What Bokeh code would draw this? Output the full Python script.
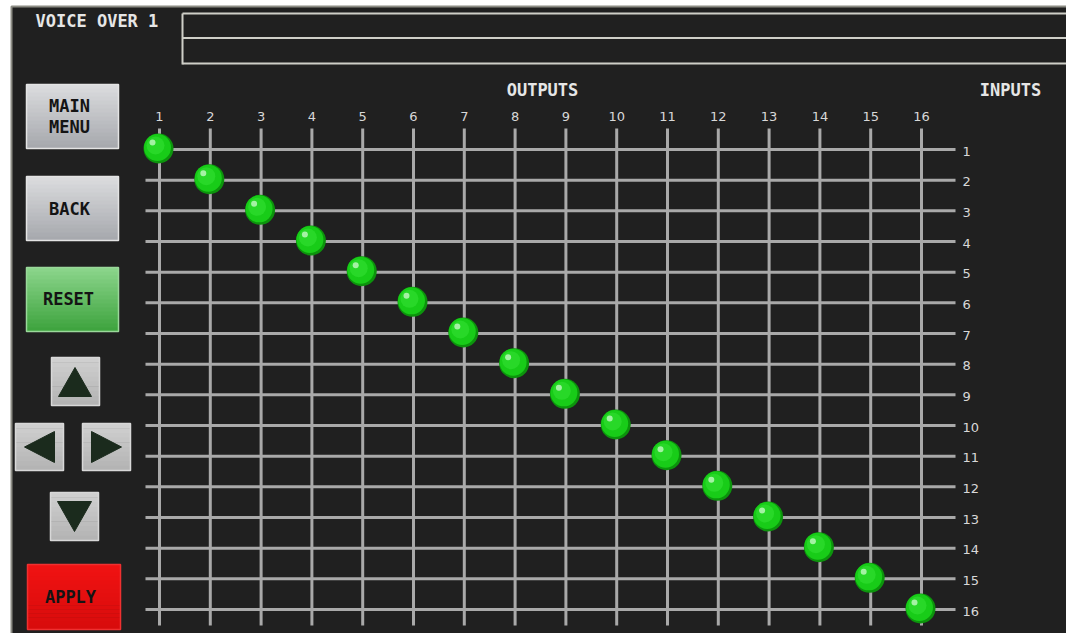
from bokeh.plotting import figure
from bokeh.models import Range1d
from bokeh.core.properties import value
from bokeh.embed import file_html
from bokeh.resources import INLINE

# ---------------- data ----------------
outputs = list(range(1, 17))
inputs = list(range(1, 17))
output_labels = [str(o) for o in outputs]
input_labels = [str(i) for i in inputs]
# crosspoint routing: output -> input
route_outputs = [1, 2, 3, 4, 5, 6, 7, 8, 9, 10, 11, 12, 13, 14, 15, 16]
route_inputs = [1, 2, 3, 4, 5, 6, 7, 8, 9, 10, 11, 12, 13, 14, 15, 16]
title_text = "VOICE OVER 1"

# ---------------- scales (pixel helpers for chrome) ----------------
SX = (921 - 159) / 15.0
SY = (609 - 149) / 15.0


def X(px):
    return 1 + (px - 159) / SX


def Y(py):
    return 1 + (py - 149) / SY


W, H = 1066, 633
p = figure(width=W, height=H, output_backend="svg", toolbar_location=None,
           x_range=Range1d(X(0), X(W)), y_range=Range1d(Y(H), Y(0)),
           min_border=0, background_fill_color="white", border_fill_color="white",
           outline_line_color=None)
p.axis.visible = False
p.grid.visible = False

MONO = value("DejaVu Sans Mono")
SANS = value("DejaVu Sans")
TFS = "17px"

# panel
p.quad(left=[X(11)], right=[X(1072)], top=[Y(6)], bottom=[Y(660)],
       fill_color="#202020", line_color="#8c8c84", line_width=2)

# top header boxes
box_col = "#cfcfc8"
p.segment(x0=[X(182)] * 3, x1=[X(1080)] * 3, y0=[Y(13), Y(37.5), Y(63)], y1=[Y(13), Y(37.5), Y(63)],
          line_color=box_col, line_width=2)
p.segment(x0=[X(182)], x1=[X(182)], y0=[Y(13)], y1=[Y(64)], line_color=box_col, line_width=2)
p.text(x=[X(35)], y=[Y(20)], text=[title_text], text_font=MONO, text_font_style="bold",
       text_font_size=TFS, text_color="#e6e6e6", text_align="left", text_baseline="middle")


def lerp(c1, c2, t):
    a = [int(c1[i:i + 2], 16) for i in (1, 3, 5)]
    b = [int(c2[i:i + 2], 16) for i in (1, 3, 5)]
    return "#%02x%02x%02x" % tuple(int(round(a[k] + (b[k] - a[k]) * t)) for k in range(3))


def button(x0, y0, x1, y1, top, bottom, edge, n=16):
    h = (y1 - y0) / n
    lefts, rights, tops, bottoms, cols = [], [], [], [], []
    for k in range(n):
        lefts.append(X(x0)); rights.append(X(x1))
        tops.append(Y(y0 + k * h)); bottoms.append(Y(y0 + (k + 1) * h + 0.5))
        cols.append(lerp(top, bottom, k / (n - 1)))
    p.quad(left=lefts, right=rights, top=tops, bottom=bottoms, fill_color=cols, line_color=None)
    p.quad(left=[X(x0)], right=[X(x1)], top=[Y(y0)], bottom=[Y(y1)], fill_color=None,
           line_color=edge, line_width=1.5)


# side buttons
button(26, 84, 118, 148, "#dadbdd", "#a7a9ae", "#e4e4e4")
button(26, 176, 118, 240, "#dadbdd", "#a7a9ae", "#e4e4e4")
button(26, 267, 118, 331, "#8ad48a", "#3fa43f", "#9ad89a")
button(27, 564, 120, 629, "#f01212", "#d80c0c", "#f03030")

btn_txt_x = [X(69), X(69), X(69), X(68), X(70)]
btn_txt_y = [Y(105), Y(126), Y(208), Y(298), Y(596)]
btn_txt = ["MAIN", "MENU", "BACK", "RESET", "APPLY"]
p.text(x=btn_txt_x, y=btn_txt_y, text=btn_txt, text_font=MONO, text_font_style="bold",
       text_font_size=TFS, text_color="#141414", text_align="center", text_baseline="middle")

# arrow buttons
arrow_boxes = [(51, 357, 99, 405), (15, 423, 63, 470), (82, 423, 130, 470), (50, 492, 98, 540)]
for (a, b, c, d) in arrow_boxes:
    button(a, b, c, d, "#cfcfcf", "#b4b4b4", "#d8d8d8", n=10)
tri_xs = [[X(58), X(91), X(74.5)], [X(24), X(54), X(54)], [X(91), X(91), X(121)], [X(57), X(91), X(74)]]
tri_ys = [[Y(396), Y(396), Y(367)], [Y(446.5), Y(431), Y(462)], [Y(431), Y(462), Y(446.5)],
          [Y(501), Y(501), Y(531)]]
p.patches(xs=tri_xs, ys=tri_ys, fill_color="#1b2b1d", line_color="#1b2b1d")

# ---------------- grid ----------------
grid_col = "#a9a9a9"
top_in = inputs[0] - 21 / SY
bot_in = inputs[-1] + 16 / SY
left_out = outputs[0] - 14 / SX
right_out = outputs[-1] + 34 / SX
p.segment(x0=outputs, x1=outputs, y0=[top_in] * 16, y1=[bot_in] * 16, line_color=grid_col, line_width=3)
p.segment(x0=[left_out] * 16, x1=[right_out] * 16, y0=inputs, y1=inputs, line_color=grid_col, line_width=3)

# tick labels
p.text(x=outputs, y=[inputs[0] - 33 / SY] * 16, text=output_labels, text_font=SANS,
       text_font_size="13px", text_color="#d8d8d8", text_align="center", text_baseline="middle")
p.text(x=[outputs[-1] + 41 / SX] * 16, y=[i + 1.5 / SY for i in inputs], text=input_labels, text_font=SANS,
       text_font_size="13px", text_color="#d8d8d8", text_align="left", text_baseline="middle")
p.text(x=[X(542)], y=[Y(89)], text=["OUTPUTS"], text_font=MONO, text_font_style="bold",
       text_font_size=TFS, text_color="#e6e6e6", text_align="center", text_baseline="middle")
p.text(x=[X(1010)], y=[Y(89)], text=["INPUTS"], text_font=MONO, text_font_style="bold",
       text_font_size=TFS, text_color="#e6e6e6", text_align="center", text_baseline="middle")

# ---------------- crosspoint balls ----------------
bx = [o - 1 / SX for o in route_outputs]
by = [i - 1 / SY for i in route_inputs]
p.scatter(x=bx, y=by, size=30, marker="circle", fill_color="#0c940c", line_color=None)
p.scatter(x=[v - 1 / SX for v in bx], y=[v - 1 / SY for v in by], size=27, marker="circle",
          fill_color="#18cc18", line_color=None)
p.scatter(x=[v - 3 / SX for v in bx], y=[v - 3 / SY for v in by], size=18, marker="circle",
          fill_color="#28d828", line_color=None)
p.scatter(x=[v - 6 / SX for v in bx], y=[v - 6 / SY for v in by], size=6, marker="circle",
          fill_color="#a4f2a4", line_color=None)

open("out.html", "w").write(file_html(p, INLINE))
